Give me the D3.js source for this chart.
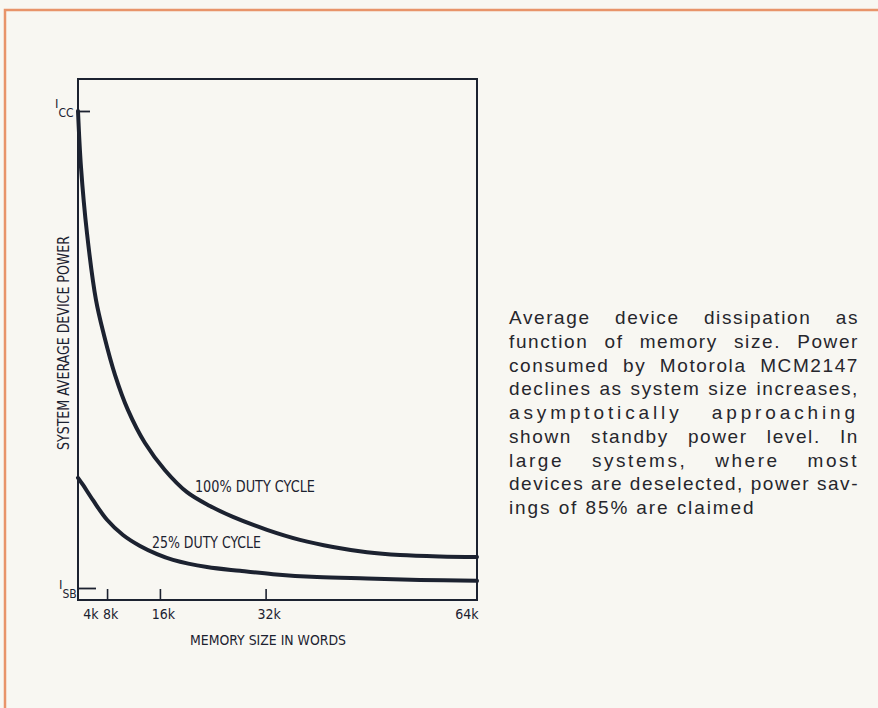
<!DOCTYPE html>
<html><head><meta charset="utf-8">
<script src="https://cdn.jsdelivr.net/npm/d3@7"></script>
<style>
html,body{margin:0;padding:0;background:#f8f7f2;}
svg{display:block}
</style></head><body>
<svg id="chart" width="878" height="708"></svg>
<script>
// ---------- data ----------
const xTickValues = [4, 8, 16, 32, 64];
const xTickLabels = ["4k", "8k", "16k", "32k", "64k"];
const yTickValues = [0, 1];
const yTickLabels = [["I", "SB"], ["I", "CC"]];

// 100% duty cycle (memory size in k words, relative power: 0 = I_SB, 1 = I_CC)
const memK100 = [3.6, 4.05, 4.96, 6.32, 7.54, 9.2, 11.17, 13.74, 16.77, 20.1, 23.58, 27.06, 32.21, 37.2, 42.2, 47.35, 52.34, 58.4, 64];
const power100 = [1.0, 0.883, 0.744, 0.604, 0.53, 0.447, 0.373, 0.304, 0.247, 0.201, 0.172, 0.149, 0.122, 0.101, 0.086, 0.075, 0.069, 0.066, 0.065];

// 25% duty cycle
const memK25 = [3.6, 4.36, 5.87, 7.99, 10.41, 12.99, 15.56, 17.98, 23.13, 28.12, 33.12, 39.78, 47.35, 55.37, 64];
const power25 = [0.231, 0.216, 0.184, 0.143, 0.111, 0.088, 0.071, 0.059, 0.044, 0.036, 0.029, 0.023, 0.02, 0.017, 0.015];

const seriesLabels = ["100% DUTY CYCLE", "25% DUTY CYCLE"];
const yAxisTitle = "SYSTEM AVERAGE DEVICE POWER";
const xAxisTitle = "MEMORY SIZE IN WORDS";
const captionLines = [
  "Average device dissipation as",
  "function of memory size. Power",
  "consumed by Motorola MCM2147",
  "declines as system size increases,",
  "asymptotically approaching",
  "shown standby power level. In",
  "large systems, where most",
  "devices are deselected, power sav-",
  "ings of 85% are claimed"
];

// ---------- drawing ----------
const svg = d3.select("#chart");
const ink = "#1c2230";
const narrow = "'Liberation Sans Narrow','DejaVu Sans Condensed','Roboto Condensed',sans-serif";

// orange page border
svg.append("path")
  .attr("d", "M5,708 L5,10 L878,10")
  .attr("fill", "none").attr("stroke", "#e8946a").attr("stroke-width", 2.5);

const plotL = 78, plotR = 477, plotT = 79, plotB = 600;
const x = d3.scaleLinear().domain([3.6, 64]).range([plotL, plotR]);
const y = d3.scaleLinear().domain([0, 1]).range([588, 111]);

// frame
svg.append("rect")
  .attr("x", plotL).attr("y", plotT).attr("width", plotR - plotL).attr("height", plotB - plotT)
  .attr("fill", "none").attr("stroke", ink).attr("stroke-width", 2);

// x axis
const xAxis = d3.axisBottom(x)
  .tickValues(xTickValues)
  .tickFormat((d, i) => xTickLabels[i])
  .tickSizeInner(-11).tickSizeOuter(0).tickPadding(9);
const gx = svg.append("g").attr("transform", `translate(0,${plotB})`).call(xAxis);
gx.select(".domain").remove();
gx.selectAll(".tick line").attr("stroke", ink).attr("stroke-width", 1.6)
  .attr("display", d => (d === 4 || d === 64) ? "none" : null);
gx.selectAll(".tick text")
  .attr("fill", ink).attr("font-family", narrow).attr("font-size", 14)
  .attr("text-anchor", d => d === 4 ? "start" : d === 64 ? "end" : "middle")
  .attr("dx", d => d === 4 ? 2 : d === 64 ? 1 : 3);

// y axis (I_SB, I_CC)
const yAxis = d3.axisLeft(y).tickValues(yTickValues).tickFormat("")
  .tickSizeInner(-12).tickSizeOuter(0);
const gy = svg.append("g").attr("transform", `translate(${plotL},0)`).call(yAxis);
gy.select(".domain").remove();
gy.selectAll(".tick line").attr("stroke", ink).attr("stroke-width", 1.8)
  .attr("x2", d => d === 0 ? 18 : 12);
gy.selectAll(".tick").each(function (d, i) {
  const t = d3.select(this).append("text")
    .attr("fill", ink).attr("font-family", narrow).attr("text-anchor", "start")
    .attr("x", d === 0 ? -19 : -23).attr("y", d === 0 ? 0 : -4).attr("font-size", 13);
  t.append("tspan").text(yTickLabels[i][0]);
  t.append("tspan").attr("font-size", 12).attr("dy", 9).text(yTickLabels[i][1]);
});

// curves
const line = d3.line().x(d => x(d[0])).y(d => y(d[1])).curve(d3.curveCatmullRom.alpha(0.5));
svg.append("path").datum(memK100.map((k, i) => [k, power100[i]]))
  .attr("d", line).attr("fill", "none").attr("stroke", ink).attr("stroke-width", 4)
  .attr("stroke-linecap", "round");
svg.append("path").datum(memK25.map((k, i) => [k, power25[i]]))
  .attr("d", line).attr("fill", "none").attr("stroke", ink).attr("stroke-width", 4)
  .attr("stroke-linecap", "round");

// series labels
svg.append("text").attr("x", x(21.3)).attr("y", 492)
  .attr("font-family", narrow).attr("font-size", 16).attr("fill", ink)
  .attr("textLength", 120).attr("lengthAdjust", "spacingAndGlyphs").text(seriesLabels[0]);
svg.append("text").attr("x", x(14.8)).attr("y", 548)
  .attr("font-family", narrow).attr("font-size", 16).attr("fill", ink)
  .attr("textLength", 109).attr("lengthAdjust", "spacingAndGlyphs").text(seriesLabels[1]);

// axis titles
svg.append("text").attr("transform", "translate(69,343) rotate(-90)")
  .attr("text-anchor", "middle").attr("font-family", narrow).attr("font-size", 15).attr("fill", ink)
  .attr("textLength", 214).attr("lengthAdjust", "spacingAndGlyphs").text(yAxisTitle);
svg.append("text").attr("x", 268).attr("y", 645)
  .attr("text-anchor", "middle").attr("font-family", narrow).attr("font-size", 14).attr("fill", ink)
  .attr("textLength", 156).attr("lengthAdjust", "spacingAndGlyphs").text(xAxisTitle);

// caption paragraph (justified)
const capLeft = 509, capRight = 859, capTop = 324, capStep = 23.75;
captionLines.forEach((txt, i) => {
  const t = svg.append("text").attr("x", capLeft).attr("y", capTop + i * capStep)
    .attr("font-family", "'Liberation Sans',Arial,sans-serif").attr("font-size", 19)
    .attr("fill", "#26262c").text(txt);
  if (i < captionLines.length - 1) {
    const natural = t.node().getComputedTextLength();
    const extra = (capRight - capLeft) - natural;
    const gaps = (txt.match(/ /g) || []).length;
    const n = txt.length;
    let ls = Math.min(1.6, extra / n);
    let ws = gaps ? (extra - ls * n) / gaps : 0;
    if (ws > 20) { ws = 20; ls = (extra - ws * gaps) / n; }
    t.style("letter-spacing", ls + "px").style("word-spacing", ws + "px");
  } else {
    t.style("letter-spacing", "1.9px");
  }
});
</script>
</body></html>
